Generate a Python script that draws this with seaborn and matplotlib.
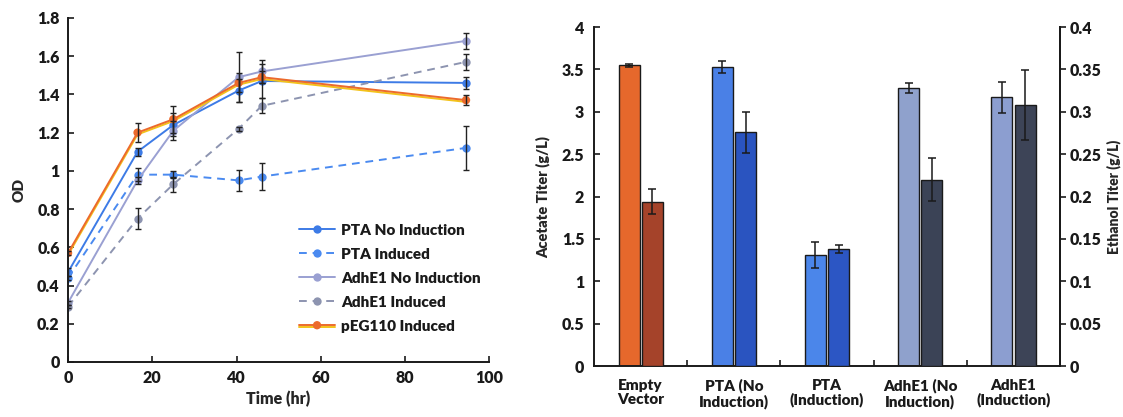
import numpy as np
import pandas as pd
import matplotlib
matplotlib.use('Agg')
import matplotlib.pyplot as plt
import matplotlib.patheffects as pe
from matplotlib.colors import to_hex
from matplotlib.ticker import FixedLocator, FuncFormatter, MultipleLocator
import seaborn as sns

# growth curves (OD vs time)
time_hr = [0, 16.5, 25, 40.5, 46, 94.5]
series_names = ['PTA No Induction', 'PTA Induced', 'AdhE1 No Induction',
                'AdhE1 Induced', 'pEG110 Induced']
od_pta_no = [0.47, 1.10, 1.24, 1.42, 1.47, 1.46]
od_pta_ind = [0.44, 0.98, 0.98, 0.95, 0.97, 1.12]
od_adhe1_no = [0.31, 0.95, 1.21, 1.49, 1.52, 1.68]
od_adhe1_ind = [0.29, 0.75, 0.93, 1.22, 1.34, 1.57]
od_peg110 = [0.57, 1.20, 1.27, 1.46, 1.49, 1.37]
err_pta_no = [0.02, 0.02, 0.06, 0.06, 0.09, 0.03]
err_pta_ind = [0.01, 0.035, 0.02, 0.055, 0.07, 0.115]
err_adhe1_no = [0.01, 0.02, 0.05, 0.13, 0.06, 0.04]
err_adhe1_ind = [0.01, 0.055, 0.04, 0.01, 0.04, 0.04]
err_peg110 = [0.01, 0.05, 0.07, 0.05, 0.03, 0.025]

# end-point titers
groups = ['Empty\nVector', 'PTA (No\nInduction)', 'PTA\n(Induction)',
          'AdhE1 (No\nInduction)', 'AdhE1\n(Induction)']
acetate = [3.55, 3.53, 1.31, 3.28, 3.17]
acetate_err = [0.02, 0.07, 0.15, 0.06, 0.18]
ethanol = [0.194, 0.276, 0.138, 0.220, 0.308]
ethanol_err = [0.015, 0.024, 0.005, 0.025, 0.041]

line_colors = ['#3d7be6', '#4a8af0', '#9aa0d2', '#8d94b0', '#ec6a2c']
acetate_colors = ['#e6682c', '#4a80e6', '#4b86ea', '#8fa1cc', '#8c9ed0']
ethanol_colors = ['#a5432a', '#2a54c0', '#2c56c4', '#3b4356', '#3d4457']

sns.set_style('ticks')
plt.rcParams['font.family'] = ['Lato', 'DejaVu Sans']
plt.rcParams['font.weight'] = 'heavy'
plt.rcParams['axes.labelweight'] = 'heavy'
plt.rcParams['axes.edgecolor'] = '#1a1a1a'
plt.rcParams['axes.linewidth'] = 1.4
plt.rcParams['xtick.color'] = '#1a1a1a'
plt.rcParams['ytick.color'] = '#1a1a1a'
plt.rcParams['text.color'] = '#1a1a1a'
fmt_g = FuncFormatter(lambda v, p: f'{v:g}')

fig = plt.figure(figsize=(11.23, 4.17), dpi=100)

# ---------------- left: growth curves ----------------
ax1 = fig.add_axes([0.0606, 0.132, 0.375, 0.825])
od_all = [od_pta_no, od_pta_ind, od_adhe1_no, od_adhe1_ind, od_peg110]
err_all = [err_pta_no, err_pta_ind, err_adhe1_no, err_adhe1_ind, err_peg110]
df_od = pd.concat([pd.DataFrame({'time': time_hr, 'od': od, 'series': name})
                   for name, od in zip(series_names, od_all)])

dash_styles = {'PTA No Induction': '', 'PTA Induced': (4, 3),
               'AdhE1 No Induction': '', 'AdhE1 Induced': (4, 3),
               'pEG110 Induced': ''}
sns.lineplot(data=df_od, x='time', y='od', hue='series', style='series',
             hue_order=series_names, style_order=series_names,
             palette=dict(zip(series_names, line_colors)),
             dashes=dash_styles, markers={n: 'o' for n in series_names},
             markersize=6, markeredgewidth=0, linewidth=1.4,
             errorbar=None, ax=ax1)

for od, err in zip(od_all, err_all):
    ax1.errorbar(time_hr, od, yerr=err, fmt='none', ecolor='#222222',
                 elinewidth=1, capsize=2.5, capthick=1, zorder=5)

shadow = [pe.SimpleLineShadow(offset=(0, -1.3), shadow_color='#f3c21a', alpha=1),
          pe.Normal()]
for ln in ax1.lines:
    if to_hex(ln.get_color()) == line_colors[4]:
        ln.set_path_effects(shadow)

handles, labels = ax1.get_legend_handles_labels()
keep = [(h, l) for h, l in zip(handles, labels) if l in series_names]
for h, l in keep:
    if l == 'pEG110 Induced':
        h.set_path_effects(shadow)
ax1.legend([h for h, _ in keep], [l for _, l in keep], frameon=False,
           loc='upper left', bbox_to_anchor=(0.535, 0.42), handlelength=2.3,
           fontsize=11, labelspacing=0.72, borderaxespad=0, handletextpad=0.45)

ax1.set_xlim(0, 100)
ax1.set_ylim(0, 1.8)
ax1.xaxis.set_major_locator(MultipleLocator(20))
ax1.yaxis.set_major_locator(MultipleLocator(0.2))
ax1.yaxis.set_major_formatter(fmt_g)
ax1.tick_params(direction='in', length=4, width=1.2, labelsize=11.5, pad=6)
ax1.set_xlabel('Time (hr)', fontsize=11.5, labelpad=3)
ax1.set_ylabel('OD', fontsize=11, labelpad=8)
sns.despine(ax=ax1)

# ---------------- right: titers ----------------
ax2 = fig.add_axes([0.529, 0.122, 0.415, 0.813])
ax3 = ax2.twinx()
measures = ['Acetate', 'Ethanol']
df_bar = pd.DataFrame({'group': groups * 2,
                       'value': acetate + ethanol,
                       'measure': ['Acetate'] * 5 + ['Ethanol'] * 5})

for ax, m, cols, vals, errs in [(ax2, 'Acetate', acetate_colors, acetate, acetate_err),
                                (ax3, 'Ethanol', ethanol_colors, ethanol, ethanol_err)]:
    sns.barplot(data=df_bar[df_bar['measure'] == m], x='group', y='value',
                hue='measure', hue_order=measures, order=groups, dodge=True,
                width=0.5, gap=0.1, errorbar=None, legend=False,
                edgecolor='#1a1a1a', linewidth=1, ax=ax)
    bars = list(ax.patches)
    for p, c in zip(bars, cols):
        p.set_facecolor(c)
    xs = [p.get_x() + p.get_width() / 2 for p in bars]
    ax.errorbar(xs, vals, yerr=errs, fmt='none', ecolor='#1a1a1a',
                elinewidth=1.1, capsize=3, capthick=1.1, zorder=5)

ax2.set_xlim(-0.5, 4.5)
ax2.set_ylim(0, 4)
ax2.yaxis.set_major_locator(MultipleLocator(0.5))
ax2.yaxis.set_major_formatter(fmt_g)
ax2.set_xticks(range(5))
ax2.set_xticklabels(groups, linespacing=1.1)
ax2.xaxis.set_minor_locator(FixedLocator([0.5, 1.5, 2.5, 3.5]))
ax2.tick_params(axis='x', which='major', length=0, labelsize=11, pad=9)
ax2.tick_params(axis='x', which='minor', direction='in', length=4, width=1.2)
ax2.tick_params(axis='y', direction='in', length=4, width=1.2, labelsize=11.5, pad=7)
ax2.set_xlabel('')
ax2.set_ylabel('Acetate Titer (g/L)', fontsize=10.5, labelpad=8)

ax3.set_ylim(0, 0.4)
ax3.yaxis.set_major_locator(MultipleLocator(0.05))
ax3.yaxis.set_major_formatter(fmt_g)
ax3.tick_params(axis='y', direction='out', length=4, width=1.2, labelsize=11.5, pad=3)
ax3.set_ylabel('Ethanol Titer (g/L)', fontsize=10, labelpad=3)

ax2.spines['top'].set_visible(False)
for s in ['top', 'left', 'bottom']:
    ax3.spines[s].set_visible(False)

plt.savefig('out.png', dpi=100)
